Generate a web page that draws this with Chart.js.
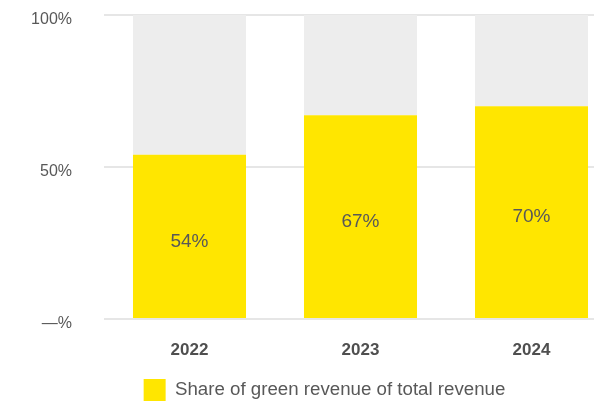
<!DOCTYPE html>
<html>
<head>
<meta charset="utf-8">
<script src="https://cdn.jsdelivr.net/npm/chart.js@4.4.1/dist/chart.umd.min.js"></script>
<style>
  html, body { margin: 0; padding: 0; background: #ffffff; overflow: hidden; }
  #wrap { width: 617px; height: 411px; }
</style>
</head>
<body>
<div id="wrap"><canvas id="canvasGreen" width="617" height="411"></canvas></div>
<script>
var years = ['2022', '2023', '2024'];
var greenShare = [54, 67, 70];
var yTicks = [0, 50, 100];
var legendLabel = 'Share of green revenue of total revenue';

var yellow = '#ffe600';
var lightGrey = '#ededed';
var textGrey = '#585858';
var fontName = "'Liberation Sans', Arial, sans-serif";

// remainder up to 100% drawn as the grey part of each bar
function restOf(values){
    var out = [];
    for (var i = 0; i < values.length; i++) {
        out.push(100 - values[i]);
    }
    return out;
}

// percentage written in the middle of each yellow bar
var valueLabels = {
    id: 'valueLabels',
    afterDatasetsDraw: function(chart){
        var ctx = chart.ctx;
        var meta = chart.getDatasetMeta(0);
        ctx.save();
        ctx.font = '19px ' + fontName;
        ctx.fillStyle = textGrey;
        ctx.textAlign = 'center';
        ctx.textBaseline = 'middle';
        meta.data.forEach(function(bar, i){
            var mid = (bar.y + bar.base) / 2 + 5;
            ctx.fillText(greenShare[i] + '%', bar.x, mid);
        });
        ctx.restore();
    }
};

var ctx = document.getElementById('canvasGreen').getContext('2d');
var chart = new Chart(ctx, {
    type: 'bar',
    data: {
        labels: years,
        datasets: [
            {
                label: legendLabel,
                data: greenShare,
                backgroundColor: yellow,
                borderWidth: 0,
                stack: 's',
                barPercentage: 0.661,
                categoryPercentage: 1
            },
            {
                label: 'rest',
                data: restOf(greenShare),
                backgroundColor: lightGrey,
                borderWidth: 0,
                stack: 's',
                barPercentage: 0.661,
                categoryPercentage: 1
            }
        ]
    },
    options: {
        responsive: false,
        animation: false,
        layout: { padding: { top: 15, left: 32, right: 0, bottom: 0 } },
        plugins: {
            tooltip: { enabled: false },
            legend: {
                position: 'bottom',
                labels: {
                    boxWidth: 22,
                    boxHeight: 22,
                    padding: 10,
                    color: textGrey,
                    font: { family: fontName, size: 18.7 },
                    filter: function(item){ return item.datasetIndex === 0; }
                }
            }
        },
        scales: {
            x: {
                stacked: true,
                grid: { display: false },
                border: { display: false },
                ticks: {
                    padding: 13,
                    color: '#4f4f4f',
                    font: { family: fontName, size: 17, weight: 'bold' }
                },
                afterFit: function(scale){ scale.height = 50; }
            },
            y: {
                stacked: true,
                min: 0,
                max: 100,
                border: { display: false },
                grid: { color: '#e6e6e6', lineWidth: 2, drawTicks: false },
                afterBuildTicks: function(scale){
                    scale.ticks = yTicks.map(function(v){ return { value: v }; });
                },
                ticks: {
                    padding: 32,
                    labelOffset: 5,
                    color: textGrey,
                    font: { family: fontName, size: 16 },
                    callback: function(value){
                        return value === 0 ? '\u2014%' : value + '%';
                    }
                },
                afterFit: function(scale){
                    scale.width = 72;
                    // tick padding is horizontal only here
                    scale.paddingTop = 0;
                    scale.paddingBottom = 0;
                }
            }
        }
    },
    plugins: [valueLabels]
});
</script>
</body>
</html>
